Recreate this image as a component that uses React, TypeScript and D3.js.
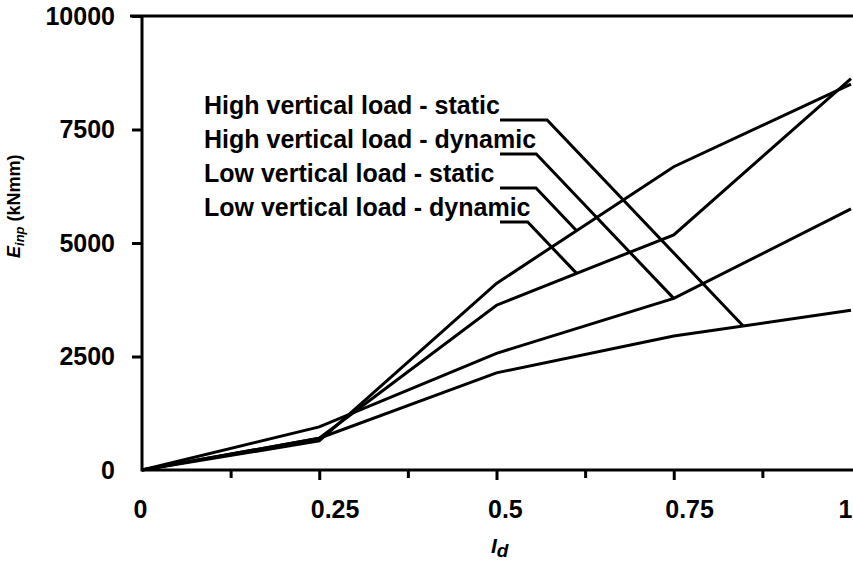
import React, { useRef, useEffect } from 'react';
import * as d3 from 'd3';

// l_d values along the x axis
const xValues = [0, 0.25, 0.5, 0.75, 1];

// E_inp (kNmm) per series
const highStatic = [0, 700, 2140, 2950, 3520];
const highDynamic = [0, 950, 2570, 3780, 5750];
const lowStatic = [0, 640, 4110, 6680, 8500];
const lowDynamic = [0, 700, 3630, 5180, 8620];

const seriesNames = [
  'High vertical load - static',
  'High vertical load - dynamic',
  'Low vertical load - static',
  'Low vertical load - dynamic',
];
// x value where each leader line meets its curve
const leaderAt = [0.848, 0.75, 0.613, 0.613];

const xTicks = [0, 0.25, 0.5, 0.75, 1];
const xTickLabels = ['0', '0.25', '0.5', '0.75', '1'];
const xMinorTicks = [0.125, 0.375, 0.625, 0.875];
const yTicks = [0, 2500, 5000, 7500, 10000];
const yTickLabels = ['0', '2500', '5000', '7500', '10000'];

const width = 853;
const height = 564;
const font = '"Liberation Sans", Arial, sans-serif';

const App = () => {
  const xAxisRef = useRef<SVGGElement>(null);
  const xMinorRef = useRef<SVGGElement>(null);
  const yAxisRef = useRef<SVGGElement>(null);

  const x = d3.scaleLinear().domain([0, 1]).range([142, 851]);
  const y = d3.scaleLinear().domain([0, 10000]).range([470, 16]);

  const series = [highStatic, highDynamic, lowStatic, lowDynamic];
  const line = d3
    .line<number>()
    .x((d, i) => x(xValues[i]))
    .y((d) => y(d));

  useEffect(() => {
    const gx = d3.select(xAxisRef.current);
    gx.selectAll('*').remove();
    gx.call(
      d3
        .axisBottom(x)
        .tickValues(xTicks)
        .tickSize(10)
        .tickSizeOuter(0)
        .tickPadding(20)
        .tickFormat((d, i) => xTickLabels[i])
    );
    gx.select('.domain').remove();
    gx.selectAll('.tick line')
      .attr('stroke', '#000')
      .attr('stroke-width', 3)
      .filter((d: any) => d === 0 || d === 1)
      .remove();
    // labels in the original start a little left of their tick;
    // the last one is kept inside the picture
    gx.selectAll('.tick text')
      .attr('fill', '#000')
      .attr('text-anchor', (d: any) => (d === 1 ? 'end' : 'start'))
      .attr('dx', (d: any) => (d === 1 ? 1 : -9))
      .style('font-family', font)
      .style('font-size', '25px')
      .style('font-weight', 'bold');

    const gm = d3.select(xMinorRef.current);
    gm.selectAll('*').remove();
    gm.call(d3.axisBottom(x).tickValues(xMinorTicks).tickSize(8).tickFormat(() => ''));
    gm.select('.domain').remove();
    gm.selectAll('.tick line').attr('stroke', '#000').attr('stroke-width', 3);

    const gy = d3.select(yAxisRef.current);
    gy.selectAll('*').remove();
    gy.call(
      d3
        .axisLeft(y)
        .tickValues(yTicks)
        .tickSize(10)
        .tickSizeOuter(0)
        .tickPadding(17)
        .tickFormat((d, i) => yTickLabels[i])
    );
    gy.select('.domain').remove();
    gy.selectAll('.tick line')
      .attr('stroke', '#000')
      .attr('stroke-width', 3)
      .filter((d: any) => d === 0)
      .remove();
    gy.selectAll('.tick text')
      .attr('fill', '#000')
      .style('font-family', font)
      .style('font-size', '25px')
      .style('font-weight', 'bold');
  }, []);

  const legendX = 204;
  const legendY = 114;
  const legendStep = 34;
  const leaderStart = 500;
  const slope = 1.05;

  const leaders = seriesNames.map((name, i) => {
    const interp = d3.scaleLinear().domain(xValues).range(series[i]);
    const tx = x(leaderAt[i]);
    const ty = y(interp(leaderAt[i]));
    const hy = legendY + i * legendStep + 6;
    const ex = tx - (ty - hy) / slope;
    return `M${leaderStart},${hy}H${ex}L${tx},${ty}`;
  });

  return (
    <svg
      width={width}
      height={height}
      style={{ position: 'absolute', left: 0, top: 0, background: '#fff' }}
    >
      <rect width={width} height={height} fill="#fff" />
      {/* frame */}
      <path
        d={`M${x(0) - 12},${y(10000)}H${width}M${x(0)},${y(10000)}V${y(0)}H${width}`}
        fill="none"
        stroke="#000"
        strokeWidth={3}
      />
      <g ref={xAxisRef} transform={`translate(0,${y(0)})`} />
      <g ref={xMinorRef} transform={`translate(0,${y(0)})`} />
      <g ref={yAxisRef} transform={`translate(${x(0)},0)`} />

      {series.map((s, i) => (
        <path key={i} d={line(s) || ''} fill="none" stroke="#000" strokeWidth={3} strokeLinejoin="miter" />
      ))}

      {leaders.map((d, i) => (
        <path key={i} d={d} fill="none" stroke="#000" strokeWidth={3} />
      ))}

      {seriesNames.map((name, i) => (
        <text
          key={name}
          x={legendX}
          y={legendY + i * legendStep}
          fontFamily={font}
          fontSize={25}
          fontWeight="bold"
          fill="#000"
        >
          {name}
        </text>
      ))}

      {/* y axis title */}
      <text
        transform="translate(20,258) rotate(-90)"
        fontFamily={font}
        fontSize={18}
        fontWeight="bold"
        fill="#000"
      >
        <tspan fontStyle="italic">E</tspan>
        <tspan fontStyle="italic" fontSize={13} dy={4}>inp</tspan>
        <tspan dy={-4}> (kNmm)</tspan>
      </text>

      {/* x axis title */}
      <text x={491} y={553} fontFamily={font} fontSize={21} fontWeight="bold" fontStyle="italic" fill="#000">
        I<tspan fontSize={19} dy={4}>d</tspan>
      </text>
    </svg>
  );
};

export default App;
